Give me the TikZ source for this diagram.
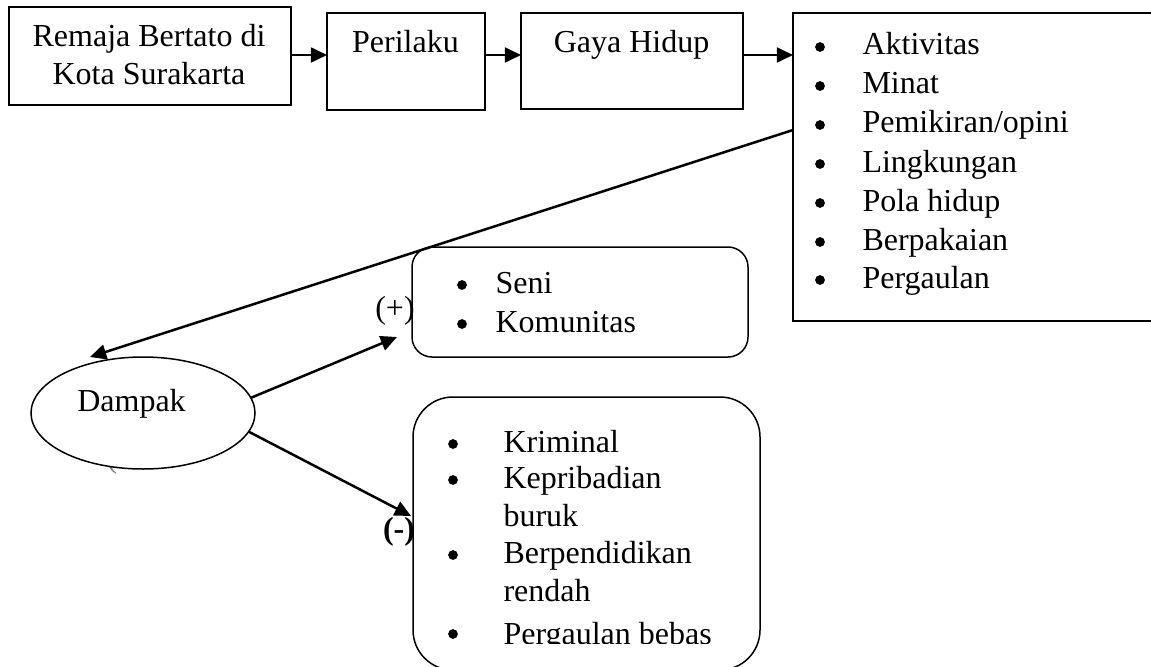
\documentclass[tikz,border=0pt]{standalone}
\usepackage{fontspec}
\setmainfont{Liberation Serif}
\usetikzlibrary{arrows.meta,shapes.geometric}
\begin{document}
\begin{tikzpicture}[x=0.4pt,y=-0.4pt,
  box/.style={draw,line width=0.6pt,inner sep=0pt,outer sep=0pt},
  rbox/.style={box,rounded corners=#1},
  txt/.style={anchor=base,inner sep=0pt,font=\fontsize{12.8}{15}\selectfont},
  ltxt/.style={txt,anchor=base west},
  bul/.style={circle,fill,inner sep=0pt,minimum size=3.9pt},
  lbl/.style={txt},
  blbl/.style={txt,font=\fontsize{12.8}{15}\selectfont\bfseries},
  arr/.style={line width=1pt,-{Triangle[length=6.5pt,width=6pt]}},
]
\useasboundingbox (0,0) rectangle (1151,666);
\clip (0,0) rectangle (1151,666);

% top row boxes
\node[box,minimum width=112.8pt,minimum height=39.2pt] (b1) at (150,56) {};
\node[txt] (b1a) at (149,47) {Remaja Bertato di};
\node[txt] (b1b) at (149,85) {Kota Surakarta};

\node[box,minimum width=63.2pt,minimum height=38.8pt] (b2) at (406,61.5) {};
\node[txt] (b2a) at (405.5,53) {Perilaku};

\node[box,minimum width=88.8pt,minimum height=38.4pt] (b3) at (632,61) {};
\node[txt] (b3a) at (631.5,53) {Gaya Hidup};

\node[box,minimum width=146.8pt,minimum height=123.2pt] (b4) at (976.5,167) {};
\node[bul] (k1) at (820,47) {};  \node[ltxt] (l1) at (862,55) {Aktivitas};
\node[bul] (k2) at (820,86) {};  \node[ltxt] (l2) at (862,94) {Minat};
\node[bul] (k3) at (820,125) {}; \node[ltxt] (l3) at (862,133) {Pemikiran/opini};
\node[bul] (k4) at (820,164) {}; \node[ltxt] (l4) at (862,172) {Lingkungan};
\node[bul] (k5) at (820,203) {}; \node[ltxt] (l5) at (862,211) {Pola hidup};
\node[bul] (k6) at (820,242) {}; \node[ltxt] (l6) at (862,250) {Berpakaian};
\node[bul] (k7) at (820,280) {}; \node[ltxt] (l7) at (862,288) {Pergaulan};

% stray parenthesis under ellipse
\node[txt,text=gray] (par) at (112,467) {(};

% Dampak ellipse
\node[ellipse,draw,fill=white,line width=0.6pt,inner sep=0pt,outer sep=0pt,
      minimum width=89.6pt,minimum height=44.8pt] (damp) at (143,413) {};
\node[txt] (dampt) at (131.5,411) {Dampak};

% positive box
\node[rbox=8pt,minimum width=134.4pt,minimum height=44pt] (pbox) at (580,302) {};
\node[bul] (pk1) at (462,285) {}; \node[ltxt] (pl1) at (495,293) {Seni};
\node[bul] (pk2) at (462,324) {}; \node[ltxt] (pl2) at (495,332) {Komunitas};

% negative box
\node[rbox=16pt,minimum width=138.8pt,minimum height=109.2pt] (nbox) at (586.5,533.5) {};
\node[bul] (nk1) at (453,444) {}; \node[ltxt] (nl1) at (503,452) {Kriminal};
\node[bul] (nk2) at (453,480) {}; \node[ltxt] (nl2) at (503,488) {Kepribadian};
\node[ltxt] (nl2b) at (503,526) {buruk};
\node[bul] (nk3) at (453,555) {}; \node[ltxt] (nl3) at (503,563) {Berpendidikan};
\node[ltxt] (nl3b) at (503,601) {rendah};
\node[bul] (nk4) at (453,634) {};
\begin{scope}
  \clip (480,600) rectangle (760,643);
  \node[ltxt] (nl4) at (503,644) {Pergaulan bebas};
\end{scope}

% labels
\node[lbl] (plus) at (395,318) {(+)};
\node[blbl] (minus) at (399,539) {(-)};

% connectors
\coordinate (y55) at (0,55);
\coordinate (y130) at (0,130);
\coordinate (dtip) at (90,357);
\coordinate (ptip) at (397,337);
\coordinate (mtip) at (411,516);
\draw[arr] (b1.east |- y55) -- (b2.west |- y55);
\draw[arr] (b2.east |- y55) -- (b3.west |- y55);
\draw[arr] (b3.east |- y55) -- (b4.west |- y55);
\draw[arr] (b4.west |- y130) -- (dtip);
\draw[arr] (damp.8) -- (ptip);
\draw[arr] (damp.-10) -- (mtip);
\end{tikzpicture}
\end{document}
